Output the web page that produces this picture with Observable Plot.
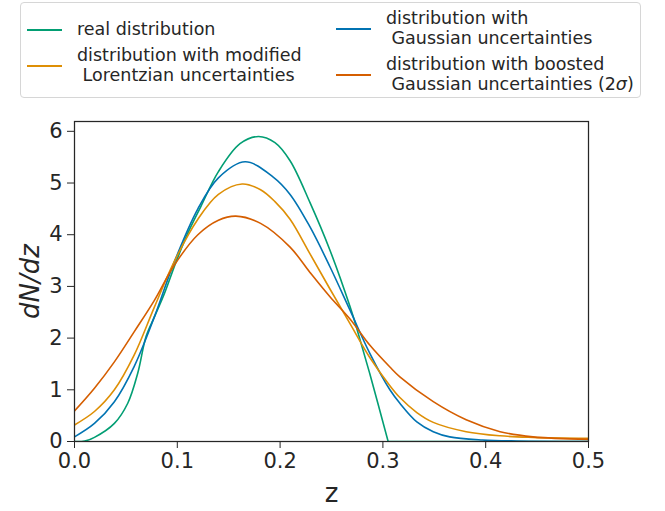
<!DOCTYPE html>
<html><head><meta charset="utf-8">
<script src="https://cdn.jsdelivr.net/npm/d3@7"></script>
<script src="https://cdn.jsdelivr.net/npm/@observablehq/plot@0.6"></script>
<style>
body{margin:0;background:#fff;font-family:"DejaVu Sans",sans-serif;color:#262626}
#wrap{position:relative;width:665px;height:511px;overflow:hidden}
#legend{position:absolute;left:20px;top:2px;width:621px;height:96px;border:1px solid #d6d6d6;border-radius:4px;box-sizing:border-box}
.sw{position:absolute;height:2px;width:35px}
.lt{position:absolute;font-size:17.5px;line-height:20px;white-space:pre;color:#262626}
#chart{position:absolute;left:0;top:100px}
</style></head><body>
<div id="wrap"><div id="legend"></div><div id="chart"></div></div>
<script>
// ---- data ----
const seriesNames = ["real distribution", "distribution with\n Gaussian uncertainties", "distribution with modified\n Lorentzian uncertainties", "distribution with boosted\n Gaussian uncertainties (2<i>σ</i>)"];
const seriesColors = ["#029e73", "#0173b2", "#de8f05", "#d55e00"];

const realZ = [0, 0.01, 0.0194, 0.0388, 0.0518, 0.0615, 0.0696, 0.0777, 0.0874, 0.0987, 0.11, 0.123, 0.14, 0.161, 0.179, 0.195, 0.2097, 0.2291, 0.2485, 0.268, 0.2744, 0.2874, 0.3051, 0.35, 0.4, 0.45, 0.5];
const realY = [0, 0.01, 0.08, 0.35, 0.74, 1.32, 2.03, 2.41, 2.86, 3.47, 4.02, 4.55, 5.22, 5.76, 5.90, 5.78, 5.43, 4.62, 3.70, 2.61, 2.20, 1.30, 0, 0, 0, 0, 0];
const realCutoff = 0.3051; // the real distribution ends sharply here

const gaussZ = [0, 0.0194, 0.0388, 0.058, 0.0777, 0.097, 0.12, 0.14, 0.166, 0.193, 0.2097, 0.2291, 0.2485, 0.268, 0.2874, 0.3068, 0.3165, 0.333, 0.349, 0.365, 0.397, 0.43, 0.5];
const gaussY = [0.09, 0.35, 0.77, 1.45, 2.41, 3.47, 4.5, 5.1, 5.41, 5.12, 4.78, 4.15, 3.38, 2.54, 1.70, 1.0, 0.74, 0.38, 0.19, 0.09, 0.03, 0.01, 0.0];

const lorZ = [0, 0.0194, 0.0388, 0.058, 0.0777, 0.097, 0.12, 0.14, 0.163, 0.181, 0.195, 0.2097, 0.2291, 0.2485, 0.268, 0.2874, 0.3068, 0.3165, 0.333, 0.349, 0.381, 0.414, 0.446, 0.5];
const lorY = [0.32, 0.58, 1.0, 1.67, 2.6, 3.48, 4.3, 4.78, 4.98, 4.87, 4.64, 4.30, 3.63, 2.95, 2.28, 1.62, 1.08, 0.85, 0.56, 0.37, 0.19, 0.11, 0.08, 0.06];

const boostZ = [0, 0.0194, 0.0388, 0.058, 0.0777, 0.097, 0.12, 0.14, 0.157, 0.181, 0.2097, 0.2291, 0.2485, 0.268, 0.2874, 0.3068, 0.3165, 0.349, 0.381, 0.414, 0.446, 0.5];
const boostY = [0.59, 1.03, 1.54, 2.12, 2.73, 3.41, 4.0, 4.28, 4.36, 4.22, 3.76, 3.27, 2.80, 2.37, 1.86, 1.44, 1.25, 0.77, 0.42, 0.19, 0.09, 0.04];

const xTicks = [0, 0.1, 0.2, 0.3, 0.4, 0.5];
const yTicks = [0, 1, 2, 3, 4, 5, 6];

// ---- legend ----
const legendPos = [
  {sx: 6, sy: 26, tx: 56, ty: 16},
  {sx: 315, sy: 25, tx: 365, ty: 5},
  {sx: 6, sy: 62, tx: 56, ty: 42},
  {sx: 315, sy: 71, tx: 365, ty: 51}
];
const leg = document.getElementById("legend");
seriesNames.forEach((n, i) => {
  const p = legendPos[i];
  const s = document.createElement("div");
  s.className = "sw"; s.style.left = p.sx + "px"; s.style.top = p.sy + "px"; s.style.background = seriesColors[i];
  const t = document.createElement("div");
  t.className = "lt"; t.style.left = p.tx + "px"; t.style.top = p.ty + "px"; t.innerHTML = n;
  leg.appendChild(s); leg.appendChild(t);
});

// ---- chart ----
const series = [[realZ, realY], [gaussZ, gaussY], [lorZ, lorY], [boostZ, boostY]];
const rows = [];
series.forEach(([zs, ys], i) => zs.forEach((z, j) => {
  if (i === 0) {
    // split the real distribution at its sharp cutoff so the smooth curve does not bend
    if (z <= realCutoff) rows.push({z, v: ys[j], s: i, g: "0a"});
    if (z >= realCutoff) rows.push({z, v: ys[j], s: i, g: "0b"});
  } else rows.push({z, v: ys[j], s: i, g: String(i)});
}));

const plot = Plot.plot({
  width: 665, height: 411,
  marginTop: 21, marginLeft: 74, marginRight: 77, marginBottom: 70,
  style: {fontFamily: "DejaVu Sans, sans-serif", color: "#262626", background: "#fff"},
  x: {domain: [0, 0.5]},
  y: {domain: [0, 6.19]},
  marks: [
    Plot.line(rows, {x: "z", y: "v", z: "g", stroke: d => seriesColors[d.s], strokeWidth: 1.6, curve: "catmull-rom", clip: true}),
    Plot.frame({stroke: "#262626", strokeWidth: 1.25}),
    Plot.axisX({ticks: xTicks, tickFormat: d3.format(".1f"), tickSize: 7, tickPadding: 5, fontSize: 21, label: null, stroke: "#262626"}),
    Plot.axisY({ticks: yTicks, tickFormat: d3.format("d"), tickSize: 7, tickPadding: 5, fontSize: 21, label: null, stroke: "#262626"}),
    Plot.text(["z"], {frameAnchor: "bottom", textAnchor: "middle", lineAnchor: "middle", dy: 52, fontSize: 26, fill: "#262626"}),
    Plot.text(["dN/dz"], {frameAnchor: "left", textAnchor: "middle", lineAnchor: "middle", dx: -44, rotate: -90, fontSize: 26, fontStyle: "italic", fill: "#262626"})
  ]
});
document.getElementById("chart").appendChild(plot);
</script>
</body></html>
